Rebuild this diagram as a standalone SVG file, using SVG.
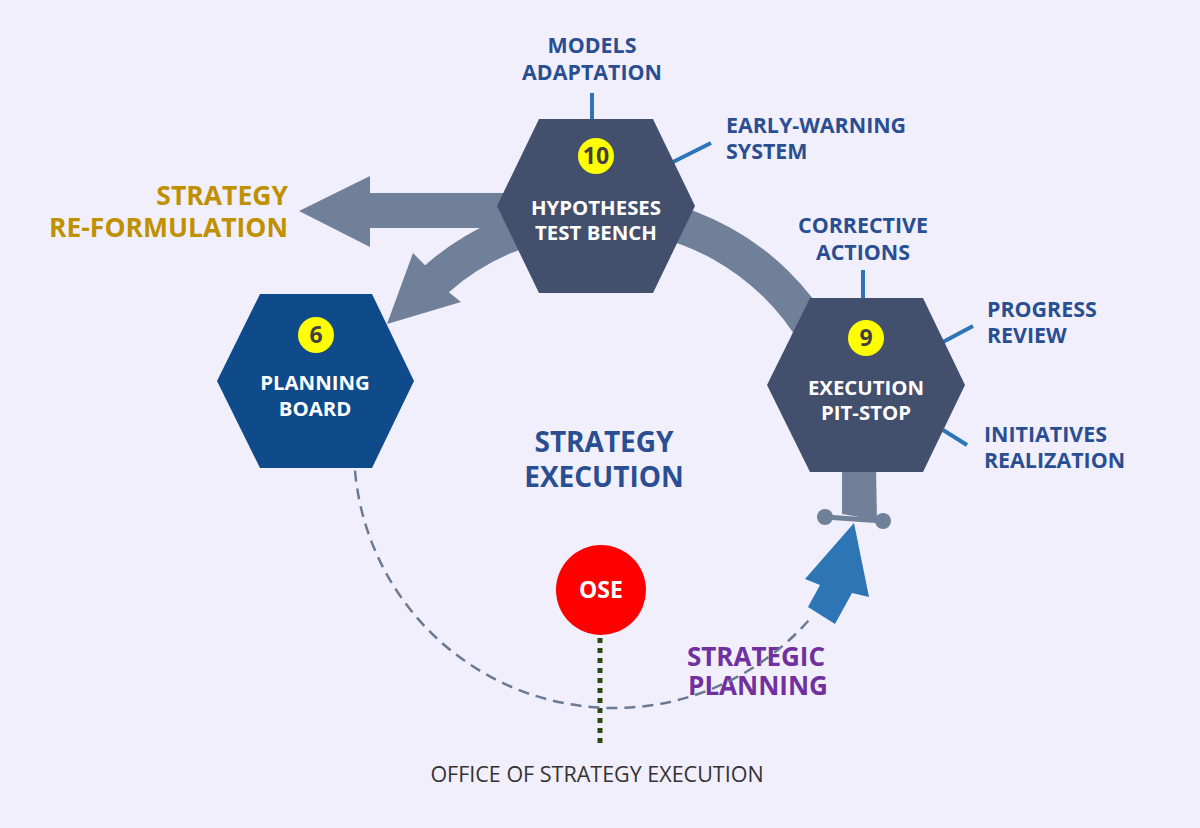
<svg xmlns="http://www.w3.org/2000/svg" width="1200" height="828" viewBox="0 0 1200 828">
<style>
.hex{stroke:none}
.dark{fill:#42506d}
.blue{fill:#0f4a8a}
.gray{fill:#708099}
.ht{font-family:"Open Sans","Liberation Sans",sans-serif;font-weight:700;font-size:20.4px;fill:#ffffff;text-anchor:middle}
.num{font-family:"Open Sans","Liberation Sans",sans-serif;font-weight:700;font-size:23px;fill:#404040;text-anchor:middle}
.yc{fill:#ffff00}
.lbl{font-family:"Open Sans","Liberation Sans",sans-serif;font-weight:700;font-size:21.4px;fill:#2a4e92}
.big{font-family:"Open Sans","Liberation Sans",sans-serif;font-weight:700}
.mid{text-anchor:middle}
.end{text-anchor:end}
.tick{stroke:#2e75b6;stroke-width:4;fill:none}
</style>
<rect width="1200" height="828" fill="#f1effc"/>
<g id="connectors">
  <path class="gray" d="M600,193 L370,193 L370,176 L299,211 L370,247 L370,228 L600,228 Z"/>
  <path class="gray" d="M577,200 A264,264 0 0 0 425.1,265.3 L413,253 L387,324 L461,302 L448.9,292.2 A228,228 0 0 1 580.1,235.9 Z"/>
  <path class="gray" d="M590.6,194.2 A269,269 0 0 1 833,328.5 L801.8,346.5 A233,233 0 0 0 591.9,230.1 Z"/>
  <path class="gray" d="M842,468 L876,468 L877,520 L842,514 Z"/>
  <line x1="825" y1="517" x2="883" y2="521" stroke="#708099" stroke-width="5"/>
  <circle cx="825" cy="517" r="8" fill="#708099"/>
  <circle cx="883" cy="521" r="8" fill="#708099"/>
  <path d="M854,523 L869,597 L852,593 L835,624 L808,607 L820,585 L805,579 Z" fill="#2e75b6"/>
  <line x1="600" y1="638" x2="600" y2="745" stroke="#2d4a14" stroke-width="5" stroke-dasharray="5,5"/>
  <line x1="592" y1="93" x2="592" y2="120" class="tick"/>
  <line x1="673" y1="162" x2="711" y2="143" class="tick"/>
  <line x1="863" y1="270" x2="863" y2="299" class="tick"/>
  <line x1="943" y1="342" x2="973" y2="326" class="tick"/>
  <line x1="943" y1="430" x2="967" y2="445" class="tick"/>
</g>
<g id="labels">
  <text class="lbl mid" x="592" y="53">MODELS</text>
  <text class="lbl mid" x="592" y="80">ADAPTATION</text>
  <text class="lbl" x="726" y="133">EARLY-WARNING</text>
  <text class="lbl" x="726" y="159">SYSTEM</text>
  <text class="lbl mid" x="863" y="233">CORRECTIVE</text>
  <text class="lbl mid" x="863" y="260">ACTIONS</text>
  <text class="lbl" x="987" y="317">PROGRESS</text>
  <text class="lbl" x="987" y="343">REVIEW</text>
  <text class="lbl" x="984" y="442">INITIATIVES</text>
  <text class="lbl" x="984" y="468">REALIZATION</text>
  <text class="big end" x="288" y="205" style="font-size:26.5px;fill:#bf9000">STRATEGY</text>
  <text class="big end" x="288" y="237" style="font-size:26.5px;fill:#bf9000">RE-FORMULATION</text>
  <text class="big mid" x="604" y="452" style="font-size:28px;fill:#2a4e92">STRATEGY</text>
  <text class="big mid" x="604" y="487" style="font-size:28px;fill:#2a4e92">EXECUTION</text>
  <text class="big mid" x="756" y="666" style="font-size:26px;fill:#7030a0">STRATEGIC</text>
  <text class="big mid" x="758" y="695" style="font-size:26px;fill:#7030a0">PLANNING</text>
  <text class="mid" x="597" y="782" style="font-family:'Open Sans','Liberation Sans',sans-serif;font-size:21.5px;fill:#333333">OFFICE OF STRATEGY EXECUTION</text>
</g>
<g id="dashed-cycle">
  <path d="M355,470.7 A260,260 0 0 0 810.2,618.6" fill="none" stroke="#6b7a92" stroke-width="2.5" stroke-dasharray="11,7"/>
</g>
<g id="node-hypotheses">
  <polygon class="hex dark" points="539,119 653,119 695,206 653,293 539,293 497,206"/>
  <circle class="yc" cx="596" cy="156" r="18"/>
  <text class="num" x="596" y="164">10</text>
  <text class="ht" x="596" y="215">HYPOTHESES</text>
  <text class="ht" x="596" y="240">TEST BENCH</text>
</g>
<g id="node-planning">
  <polygon class="hex blue" points="260,294 372,294 414,381 372,468 260,468 217,381"/>
  <circle class="yc" cx="316" cy="335" r="18"/>
  <text class="num" x="316" y="343">6</text>
  <text class="ht" x="315" y="390">PLANNING</text>
  <text class="ht" x="315" y="416">BOARD</text>
</g>
<g id="node-execution">
  <polygon class="hex dark" points="810,298 923,298 965,385 923,472 810,472 767,385"/>
  <circle class="yc" cx="866" cy="338" r="18"/>
  <text class="num" x="866" y="346">9</text>
  <text class="ht" x="866" y="395">EXECUTION</text>
  <text class="ht" x="866" y="420">PIT-STOP</text>
</g>
<g id="node-ose">
  <circle cx="601" cy="590" r="45" fill="#ff0000"/>
  <text class="big mid" x="601" y="598" style="font-size:23px;fill:#ffffff">OSE</text>
</g>
</svg>
